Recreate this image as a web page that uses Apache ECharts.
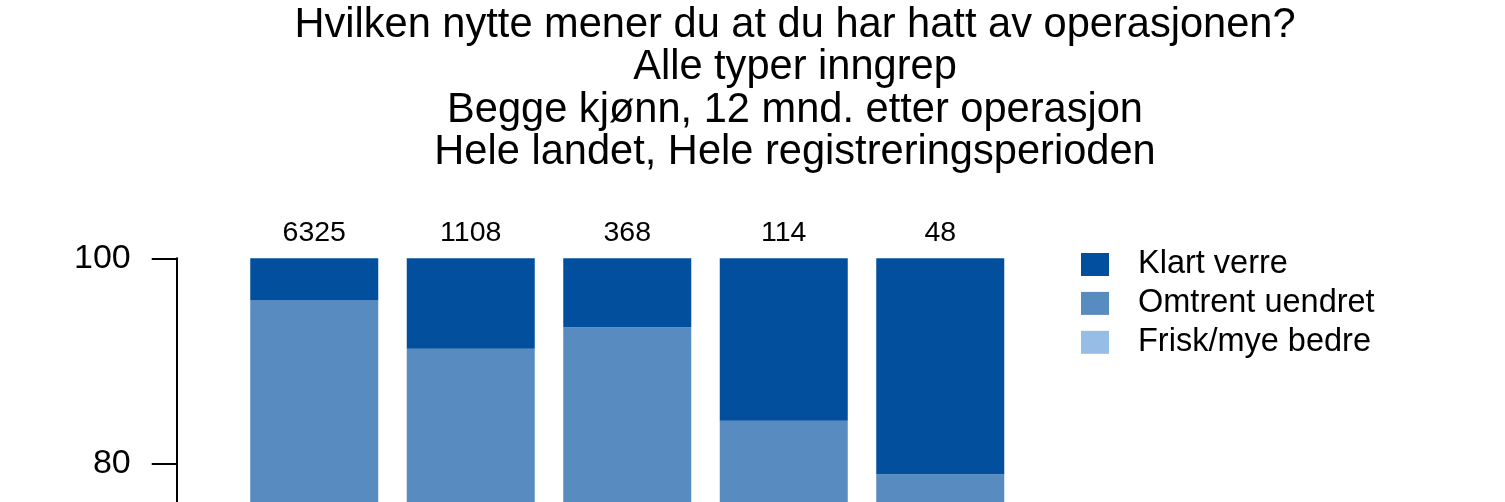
<!DOCTYPE html>
<html>
<head>
<meta charset="utf-8">
<script src="https://cdn.jsdelivr.net/npm/echarts@6/dist/echarts.min.js"></script>
<style>
html,body{margin:0;padding:0;background:#fff;overflow:hidden;width:1505px;height:502px;}
#wrap{width:1505px;height:502px;overflow:hidden;position:relative;}
#chart{width:1505px;height:1320px;position:absolute;left:0;top:0;}
</style>
</head>
<body>
<div id="wrap"><div id="chart"></div></div>
<script>
const categories = ['A', 'B', 'C', 'D', 'E'];
const counts = [6325, 1108, 368, 114, 48];
const friskMyeBedre = [68.9, 60.2, 64.3, 51.2, 44.0];
const omtrentUendret = [27.0, 31.0, 29.0, 33.0, 35.0];
const klartVerre = [4.1, 8.8, 6.7, 15.8, 21.0];
const seriesNames = ['Klart verre', 'Omtrent uendret', 'Frisk/mye bedre'];
const titleLines = [
  'Hvilken nytte mener du at du har hatt av operasjonen?',
  'Alle typer inngrep',
  'Begge kjønn, 12 mnd. etter operasjon',
  'Hele landet, Hele registreringsperioden'
];

const FONT = '"Liberation Sans", Arial, Helvetica, sans-serif';
const chart = echarts.init(document.getElementById('chart'), null, {renderer: 'canvas'});

chart.setOption({
  animation: false,
  backgroundColor: '#ffffff',
  title: {
    text: titleLines.join('\n'),
    left: 795,
    top: 4,
    padding: 0,
    textAlign: 'center',
    textStyle: {fontFamily: FONT, fontSize: 41.6, fontWeight: 'normal', color: '#000', lineHeight: 42.5}
  },
  legend: {
    orient: 'vertical',
    left: 1081,
    top: 248,
    padding: 0,
    itemWidth: 28,
    itemHeight: 23,
    itemGap: 5.9,
    icon: 'rect',
    data: seriesNames,
    selectedMode: false,
    textStyle: {fontFamily: FONT, fontSize: 32.5, color: '#000', padding: [0, 0, 0, 24]}
  },
  grid: {left: 236, top: 258.3, width: 782.5, height: 1028, containLabel: false},
  xAxis: {
    type: 'category',
    data: categories,
    show: false
  },
  yAxis: {
    type: 'value',
    min: 0,
    max: 100,
    interval: 20,
    offset: 59.3,
    splitLine: {show: false},
    axisLine: {show: true, lineStyle: {color: '#000', width: 2}},
    axisTick: {show: true, length: 25, lineStyle: {color: '#000', width: 2}},
    axisLabel: {margin: 46, fontFamily: FONT, fontSize: 34, color: '#000'}
  },
  series: [
    {
      name: 'Frisk/mye bedre', type: 'bar', stack: 'tot', barWidth: 128,
      itemStyle: {color: '#95BDE6'}, data: friskMyeBedre
    },
    {
      name: 'Omtrent uendret', type: 'bar', stack: 'tot', barWidth: 128,
      itemStyle: {color: '#588BC0'}, data: omtrentUendret
    },
    {
      name: 'Klart verre', type: 'bar', stack: 'tot', barWidth: 128,
      itemStyle: {color: '#014F9D'}, data: klartVerre,
      label: {
        show: true, position: 'top', distance: 11,
        fontFamily: FONT, fontSize: 28.5, color: '#000',
        formatter: p => String(counts[p.dataIndex])
      }
    }
  ]
});
</script>
</body>
</html>
